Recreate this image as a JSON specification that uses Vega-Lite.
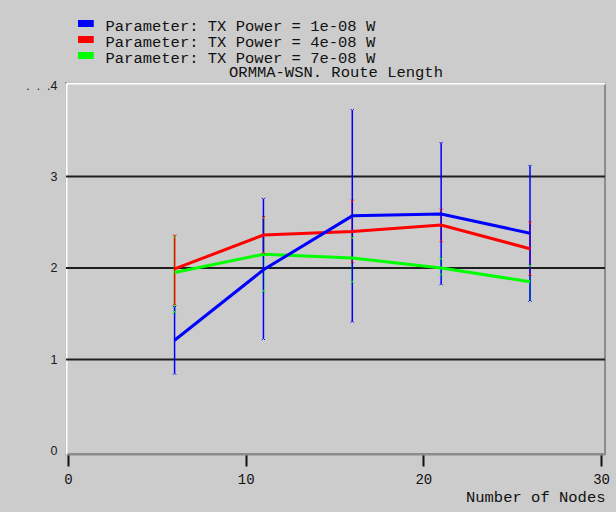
{
  "$schema": "https://vega.github.io/schema/vega-lite/v6.json",
  "width": 539,
  "height": 371,
  "autosize": {"type": "none"},
  "padding": {"left": 66, "top": 83, "right": 11, "bottom": 58},
  "background": "#cccccc",
  "config": {
    "view": {"stroke": "#8c8c8c", "strokeWidth": 2},
    "font": "Liberation Mono"
  },
  "datasets": {
    "pts": [
      {"series": "Parameter: TX Power = 7e-08 W", "nodes": 6, "mean": 1.95, "lo": 1.52, "hi": 2.34},
      {"series": "Parameter: TX Power = 7e-08 W", "nodes": 11, "mean": 2.15, "lo": 1.75, "hi": 2.55},
      {"series": "Parameter: TX Power = 7e-08 W", "nodes": 16, "mean": 2.11, "lo": 1.85, "hi": 2.33},
      {"series": "Parameter: TX Power = 7e-08 W", "nodes": 21, "mean": 2.0, "lo": 1.93, "hi": 2.1},
      {"series": "Parameter: TX Power = 7e-08 W", "nodes": 26, "mean": 1.85, "lo": 1.65, "hi": 2.02},
      {"series": "Parameter: TX Power = 4e-08 W", "nodes": 6, "mean": 1.99, "lo": 1.61, "hi": 2.35},
      {"series": "Parameter: TX Power = 4e-08 W", "nodes": 11, "mean": 2.36, "lo": 2.17, "hi": 2.55},
      {"series": "Parameter: TX Power = 4e-08 W", "nodes": 16, "mean": 2.4, "lo": 2.07, "hi": 2.73},
      {"series": "Parameter: TX Power = 4e-08 W", "nodes": 21, "mean": 2.47, "lo": 2.3, "hi": 2.63},
      {"series": "Parameter: TX Power = 4e-08 W", "nodes": 26, "mean": 2.21, "lo": 1.93, "hi": 2.49},
      {"series": "Parameter: TX Power = 1e-08 W", "nodes": 6, "mean": 1.21, "lo": 0.85, "hi": 1.57},
      {"series": "Parameter: TX Power = 1e-08 W", "nodes": 11, "mean": 1.98, "lo": 1.23, "hi": 2.75},
      {"series": "Parameter: TX Power = 1e-08 W", "nodes": 16, "mean": 2.57, "lo": 1.42, "hi": 3.72},
      {"series": "Parameter: TX Power = 1e-08 W", "nodes": 21, "mean": 2.59, "lo": 1.83, "hi": 3.36},
      {"series": "Parameter: TX Power = 1e-08 W", "nodes": 26, "mean": 2.38, "lo": 1.65, "hi": 3.11}
    ],
    "grid": [{"v": 1}, {"v": 2}, {"v": 3}]
  },
  "resolve": {"axis": {"x": "independent"}},
  "layer": [
    {
      "data": {"name": "grid"},
      "mark": {"type": "rule", "color": "#1e1e1e", "strokeWidth": 2},
      "encoding": {
        "y": {"field": "v", "type": "quantitative", "scale": {"domain": [-0.033, 4.022], "nice": false, "zero": false}}
      }
    },
    {
      "data": {"name": "pts"},
      "mark": {"type": "rule", "strokeWidth": 1.5},
      "encoding": {
        "x": {
          "field": "nodes", "type": "quantitative",
          "scale": {"domain": [-0.11, 30.22], "nice": false, "zero": false},
          "axis": {
            "orient": "bottom",
            "values": [0, 10, 20, 30],
            "grid": false,
            "domainColor": "#8c8c8c",
            "domainWidth": 2,
            "tickColor": "#111111",
            "tickSize": 12,
            "tickWidth": 2,
            "labelFont": "Liberation Mono",
            "labelFontSize": 14,
            "labelColor": "#111111",
            "labelPadding": 6,
            "title": "Number of Nodes",
            "titleFont": "Liberation Mono",
            "titleFontSize": 15.5,
            "titleFontWeight": "normal",
            "titleColor": "#111111",
            "titleAnchor": "end",
            "titlePadding": 3
          }
        },
        "y": {
          "field": "lo", "type": "quantitative",
          "scale": {"domain": [-0.033, 4.022], "nice": false, "zero": false},
          "axis": {
            "values": [0, 1, 2, 3, 4],
            "labelExpr": "datum.value == 4 ? '.\u00a0\u00a0.\u00a0\u00a0.4' : format(datum.value, 'd')",
            "grid": false,
            "ticks": false,
            "domainColor": "#ffffff",
            "domainWidth": 2,
            "labelFont": "Liberation Sans",
            "labelFontSize": 12.5,
            "labelColor": "#1a1a1a",
            "labelPadding": 9,
            "labelOverlap": false,
            "labelBound": false,
            "labelFlush": false,
            "title": null
          }
        },
        "y2": {"field": "hi"},
        "color": {
          "field": "series", "type": "nominal",
          "scale": {
            "domain": ["Parameter: TX Power = 1e-08 W", "Parameter: TX Power = 4e-08 W", "Parameter: TX Power = 7e-08 W"],
            "range": ["#0000ff", "#ff0000", "#00ff00"]
          },
          "legend": {
            "orient": "none",
            "legendX": 12,
            "legendY": -64,
            "title": null,
            "padding": 0,
            "symbolType": "M-2,-0.6H2",
            "symbolSize": 64,
            "symbolStrokeWidth": 7,
            "symbolOpacity": 1,
            "labelFont": "Liberation Mono",
            "labelFontSize": 15.5,
            "labelColor": "#111111",
            "labelOffset": 12,
            "rowPadding": 0,
            "clipHeight": 14,
            "labelLimit": 400
          }
        }
      }
    },
    {
      "data": {"name": "pts"},
      "transform": [{"filter": "datum.series == 'Parameter: TX Power = 7e-08 W'"}],
      "mark": {"type": "line", "strokeWidth": 3},
      "encoding": {
        "x": {"field": "nodes", "type": "quantitative", "axis": null},
        "y": {"field": "mean", "type": "quantitative"},
        "color": {"field": "series", "type": "nominal"}
      }
    },
    {
      "data": {"name": "pts"},
      "transform": [{"filter": "datum.series == 'Parameter: TX Power = 4e-08 W'"}],
      "mark": {"type": "line", "strokeWidth": 3},
      "encoding": {
        "x": {"field": "nodes", "type": "quantitative", "axis": null},
        "y": {"field": "mean", "type": "quantitative"},
        "color": {"field": "series", "type": "nominal"}
      }
    },
    {
      "data": {"name": "pts"},
      "transform": [{"filter": "datum.series == 'Parameter: TX Power = 1e-08 W'"}],
      "mark": {"type": "line", "strokeWidth": 3},
      "encoding": {
        "x": {"field": "nodes", "type": "quantitative", "axis": null},
        "y": {"field": "mean", "type": "quantitative"},
        "color": {"field": "series", "type": "nominal"}
      }
    },
    {
      "data": {"name": "pts"},
      "mark": {"type": "point", "shape": "M-1,-1L0,0L1,-1M0,0V0.6", "size": 10, "filled": false, "strokeWidth": 1, "opacity": 1},
      "encoding": {
        "x": {"field": "nodes", "type": "quantitative", "axis": null},
        "y": {"field": "hi", "type": "quantitative"},
        "color": {"field": "series", "type": "nominal"}
      }
    },
    {
      "data": {"name": "pts"},
      "mark": {"type": "point", "shape": "M-1,1L0,0L1,1M0,0V-0.6", "size": 10, "filled": false, "strokeWidth": 1, "opacity": 1},
      "encoding": {
        "x": {
          "field": "nodes", "type": "quantitative",
          "axis": {
            "orient": "top",
            "domainColor": "#ffffff",
            "domainWidth": 2,
            "ticks": false,
            "labels": false,
            "grid": false,
            "title": "ORMMA-WSN. Route Length",
            "titleFont": "Liberation Mono",
            "titleFontSize": 15.5,
            "titleFontWeight": "normal",
            "titleColor": "#111111",
            "titleAnchor": "middle",
            "titlePadding": 4
          }
        },
        "y": {"field": "lo", "type": "quantitative"},
        "color": {"field": "series", "type": "nominal"}
      }
    }
  ]
}
